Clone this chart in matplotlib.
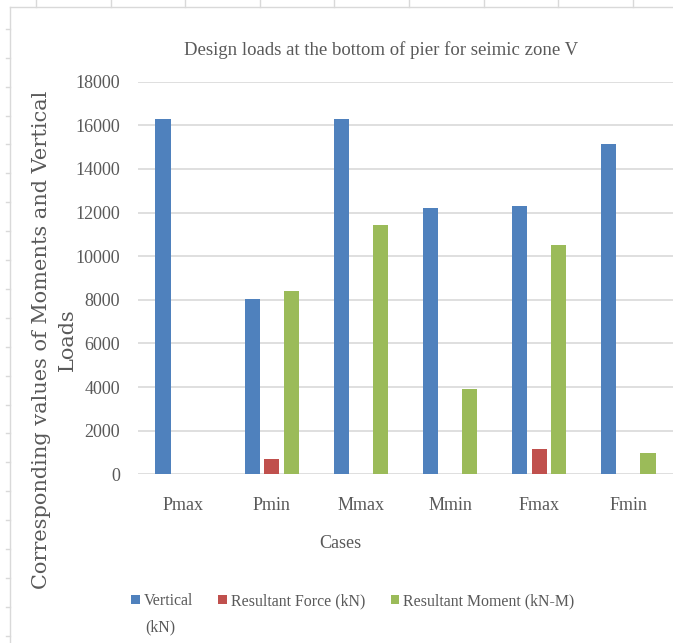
import matplotlib
matplotlib.use("Agg")
import matplotlib.pyplot as plt
import numpy as np
from matplotlib.lines import Line2D

# Design loads at the bottom of the pier, seismic zone V
cases = ["Pmax", "Pmin", "Mmax", "Mmin", "Fmax", "Fmin"]
vertical_kn = [16270, 8050, 16270, 12190, 12320, 15130]
resultant_force_kn = [0, 690, 0, 0, 1160, 0]
resultant_moment_knm = [0, 8420, 11410, 3910, 10510, 960]

series_labels = ["Vertical", "Resultant Force (kN)", "Resultant Moment (kN-M)"]
series_colors = ["#4f81bd", "#c0504d", "#9bbb59"]
y_ticks = [0, 2000, 4000, 6000, 8000, 10000, 12000, 14000, 16000, 18000]

TEXT = "#595959"
GRID = "#d9d9d9"
SERIF = ["Liberation Serif", "DejaVu Serif"]

W, H = 673, 643
fig = plt.figure(figsize=(W / 100, H / 100), dpi=100)
fig.patch.set_facecolor("white")

def fx(px):
    return px / W

def fy(py):
    return 1 - py / H

ax = fig.add_axes([fx(138), fy(474.3), fx(673) - fx(138), fy(81.7) - fy(474.3)])

x = np.arange(len(cases))
width = 0.17
offsets = [-0.22, 0.0, 0.22]
series = [vertical_kn, resultant_force_kn, resultant_moment_knm]
for vals, off, col, lab in zip(series, offsets, series_colors, series_labels):
    ax.bar(x + off, vals, width, color=col, label=lab, zorder=3)

ax.set_xlim(-0.5, len(cases) - 0.5)
ax.set_ylim(0, 18000)
ax.set_yticks(y_ticks)
ax.set_yticklabels([str(v) for v in y_ticks])
ax.set_xticks(x)
ax.set_xticklabels(cases)
ax.yaxis.grid(True, color=GRID, linewidth=1.2, zorder=0)
ax.set_axisbelow(True)
for s in ax.spines.values():
    s.set_visible(False)
ax.tick_params(axis="both", length=0, colors=TEXT, labelsize=13)
ax.tick_params(axis="y", pad=13)
ax.tick_params(axis="x", pad=16)
for lbl in ax.get_xticklabels() + ax.get_yticklabels():
    lbl.set_family(SERIF)
    lbl.set_color(TEXT)

fig.text(fx(381), fy(50), "Design loads at the bottom of pier for seimic zone V",
         ha="center", va="center", fontsize=13.5, color=TEXT, family=SERIF)
fig.text(fx(340), fy(543), "Cases", ha="center", va="center",
         fontsize=13, color=TEXT, family=SERIF)
fig.text(fx(54), fy(340), "Corresponding values of Moments and Vertical\nLoads",
         ha="center", va="center", rotation=90, fontsize=15, color=TEXT,
         fontfamily="DejaVu Serif", linespacing=1.45,
         multialignment="center")

leg = ax.legend(loc="center left", bbox_to_anchor=(fx(131), fy(601)),
                bbox_transform=fig.transFigure, ncol=3, frameon=False,
                handlelength=0.55, handleheight=0.55, handletextpad=0.25,
                columnspacing=1.6, borderpad=0, borderaxespad=0,
                prop={"family": SERIF, "size": 11.4})
for t in leg.get_texts():
    t.set_color(TEXT)
# unit line wrapped under the first legend entry
fig.text(fx(145), fy(627), "(kN)", ha="left", va="center",
         fontsize=11.4, color=TEXT, family=SERIF)

# Outer frame with ruler ticks along top and left edges
frame_kw = dict(color=GRID, linewidth=1.0, transform=fig.transFigure)
fig.add_artist(Line2D([fx(10), fx(673)], [fy(7), fy(7)], **frame_kw))
fig.add_artist(Line2D([fx(10), fx(10)], [fy(7), fy(643)], **frame_kw))
for tx in np.arange(36, 673, 74.6):
    fig.add_artist(Line2D([fx(tx), fx(tx)], [fy(0), fy(7)], **frame_kw))
for ty in np.arange(549 - 28.9 * 18, 643, 28.9):
    if ty > 10:
        fig.add_artist(Line2D([fx(6), fx(10)], [fy(ty), fy(ty)], **frame_kw))

fig.savefig("out.png", dpi=100, facecolor="white")
